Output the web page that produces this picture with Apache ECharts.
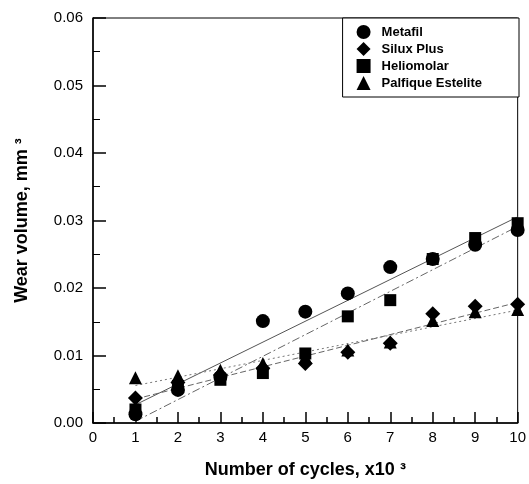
<!DOCTYPE html>
<html>
<head>
<meta charset="utf-8">
<script src="https://cdn.jsdelivr.net/npm/echarts@6/dist/echarts.min.js"></script>
<style>html,body{margin:0;padding:0;background:#fff;}#c{width:529px;height:484px;}</style>
</head>
<body>
<div id="c"></div>
<script>
const cycles = [1, 2, 3, 4, 5, 6, 7, 8, 9, 10];
const metafil = [0.0013, 0.0049, 0.0068, 0.0151, 0.0165, 0.0192, 0.0231, 0.0243, 0.0264, 0.0286];
const siluxPlus = [0.0037, 0.0060, 0.0071, 0.0081, 0.0088, 0.0105, 0.0118, 0.0162, 0.0173, 0.0176];
const heliomolar = [0.0020, 0.0055, 0.0064, 0.0074, 0.0103, 0.0158, 0.0182, 0.0243, 0.0274, 0.0296];
const palfique = [0.0067, 0.0070, 0.0078, 0.0088, 0.0098, 0.0108, 0.0120, 0.0152, 0.0165, 0.0168];
const seriesNames = ['Metafil', 'Silux Plus', 'Heliomolar', 'Palfique Estelite'];
const xTicks = [0,1,2,3,4,5,6,7,8,9,10];

function fit(xs, ys) {
  const n = xs.length;
  const mx = xs.reduce((a,b)=>a+b,0)/n, my = ys.reduce((a,b)=>a+b,0)/n;
  let sxy = 0, sxx = 0;
  for (let i=0;i<n;i++){ sxy += (xs[i]-mx)*(ys[i]-my); sxx += (xs[i]-mx)*(xs[i]-mx); }
  const b = sxy/sxx, a = my - b*mx;
  const x0 = xs[0], x1 = xs[n-1];
  return [[x0, a+b*x0],[x1, a+b*x1]];
}
const pts = ys => cycles.map((x,i)=>[x, ys[i]]);
const sets = [metafil, siluxPlus, heliomolar, palfique];
const symbols = ['circle', 'diamond', 'rect', 'triangle'];
const sizes = [14, 15, 12, 13];
const lineStyles = [
  {type:'solid', color:'#555'},
  {type:[6,3], color:'#666'},
  {type:[8,3,2,3], color:'#666'},
  {type:[2,3], color:'#777'}
];
const series = [];
sets.forEach((ys, k) => {
  series.push({
    name: seriesNames[k] + ' fit', type: 'line', data: fit(cycles, ys),
    showSymbol: false, symbol: 'none', silent: true, z: 1,
    lineStyle: {width: 1, type: lineStyles[k].type, color: lineStyles[k].color}
  });
});
sets.forEach((ys, k) => {
  series.push({
    name: seriesNames[k], type: 'scatter', data: pts(ys), z: 3,
    symbol: symbols[k], symbolSize: sizes[k],
    itemStyle: {color: '#000', opacity: 1}
  });
});

const chart = echarts.init(document.getElementById('c'), null, {renderer: 'canvas'});
chart.setOption({
  animation: false,
  backgroundColor: '#fff',
  grid: {left: 93, right: 10, top: 18, bottom: 57, show: true, borderColor: '#000', borderWidth: 1},
  legend: {
    data: seriesNames, orient: 'vertical', right: 10, top: 18,
    borderColor: '#000', borderWidth: 1, backgroundColor: '#fff',
    padding: [7, 37, 7, 14], itemGap: 3, itemWidth: 14, itemHeight: 14,
    itemStyle: {opacity: 1},
    textStyle: {fontFamily: 'Liberation Sans, Arial', fontWeight: 'bold', fontSize: 13, color: '#000', padding: [0,0,0,6]}
  },
  xAxis: {
    type: 'value', min: 0, max: 10, interval: 1,
    name: 'Number of cycles, x10 ³', nameLocation: 'middle', nameGap: 38,
    nameTextStyle: {fontFamily: 'Liberation Sans, Arial', fontWeight: 'bold', fontSize: 18, color: '#000'},
    axisLine: {onZero: false, lineStyle: {color: '#000', width: 1.5}},
    axisTick: {inside: true, length: 11, lineStyle: {color: '#000', width: 1.5}},
    minorTick: {show: true, splitNumber: 2, length: 6, lineStyle: {color: '#000', width: 1.5}},
    splitLine: {show: false},
    axisLabel: {fontFamily: 'Liberation Sans, Arial', fontSize: 15, color: '#000', margin: 7,
      formatter: v => xTicks.includes(v) ? String(v) : ''}
  },
  yAxis: {
    type: 'value', min: 0, max: 0.06, interval: 0.01,
    name: 'Wear volume, mm ³', nameLocation: 'middle', nameGap: 62,
    nameTextStyle: {fontFamily: 'Liberation Sans, Arial', fontWeight: 'bold', fontSize: 18, color: '#000'},
    axisLine: {onZero: false, lineStyle: {color: '#000', width: 1.5}},
    axisTick: {inside: true, length: 13, lineStyle: {color: '#000', width: 1.5}},
    minorTick: {show: true, splitNumber: 2, length: 7, lineStyle: {color: '#000', width: 1}},
    splitLine: {show: false},
    axisLabel: {fontFamily: 'Liberation Sans, Arial', fontSize: 15, color: '#000', margin: 10,
      formatter: v => v.toFixed(2)}
  },
  series: series
});
</script>
</body>
</html>
